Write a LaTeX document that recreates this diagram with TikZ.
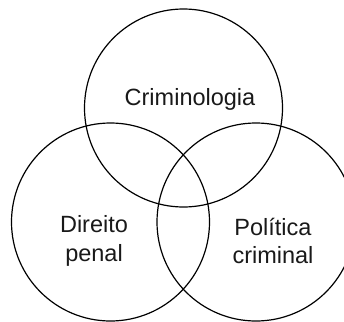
\documentclass[tikz,border=0pt]{standalone}
\usepackage{fontspec}
\setmainfont{Liberation Sans}
\begin{document}
\begin{tikzpicture}[x=1pt,y=-1pt,
  setc/.style={draw=black,line width=1.2pt,circle,minimum size=198pt,inner sep=0pt},
  lbl/.style={align=center,font=\fontsize{23.5}{28.5}\selectfont,text=black!90}]
\useasboundingbox (0,0) rectangle (344,321);
\begin{scope}
\clip (0,0) rectangle (344,321);
\node[setc] (crim) at (183.5,108) {};
\node[setc] (dir) at (110.5,222) {};
\node[setc] (pol) at (256,222) {};
\end{scope}
\node[lbl] (tcrim) at (190,99) {Criminologia};
\node[lbl] (tdir) at (94,241) {Direito\\penal};
\node[lbl] (tpol) at (273,241) {Política\\criminal};
\end{tikzpicture}
\end{document}
